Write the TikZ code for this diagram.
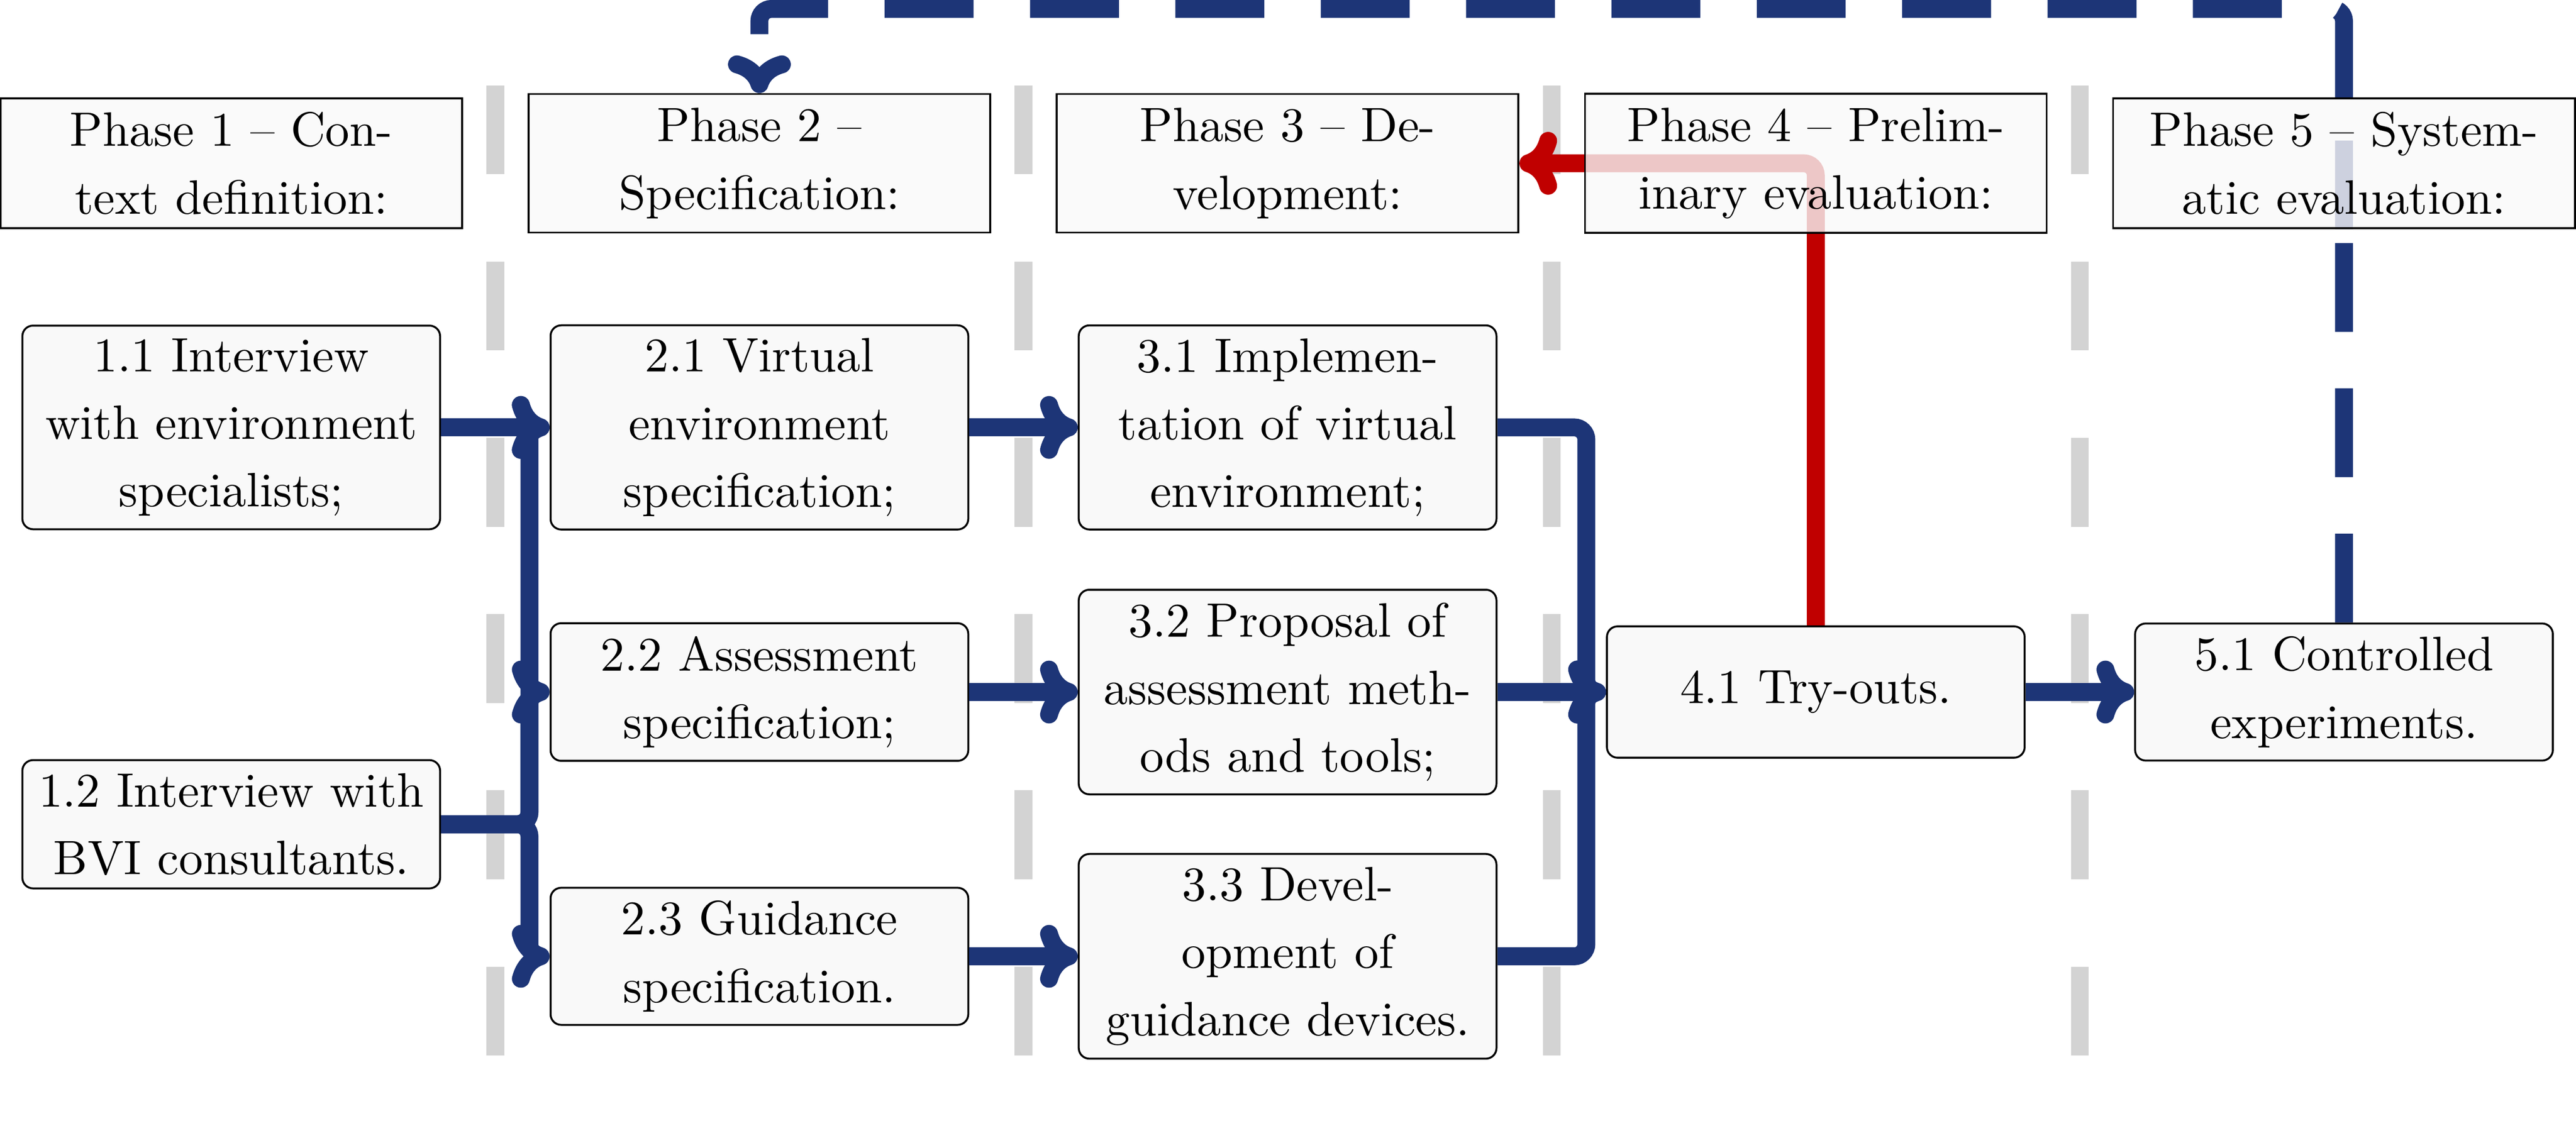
\documentclass[tikz,border=0pt]{standalone}
\usetikzlibrary{arrows.meta}
\definecolor{navy}{RGB}{29,53,119}
\definecolor{myred}{RGB}{192,0,0}
\definecolor{gline}{RGB}{211,211,211}
\definecolor{boxfill}{RGB}{249,249,249}
\pgfdeclarelayer{bg}
\pgfsetlayers{bg,main}
\begin{document}
\begin{tikzpicture}[x=0.3402pt,y=-0.3402pt,
  phasebox/.style={draw=black, line width=0.4pt, fill=boxfill, fill opacity=0.8, text opacity=1,
    align=center, minimum width=95.6pt, inner xsep=3pt, inner ysep=2.9pt,
    font=\fontsize{10}{14}\selectfont},
  taskbox/.style={draw=black, line width=0.4pt, rounded corners=2.2pt, fill=boxfill,
    align=center, minimum width=86.5pt, inner xsep=3pt, inner ysep=2.7pt,
    font=\fontsize{10}{14}\selectfont},
  conn/.style={draw=navy, line width=3.7pt, rounded corners=2.5pt,
    -{Computer Modern Rightarrow[length=7.8pt,width=13pt]}},
  redconn/.style={conn, draw=myred},
  dconn/.style={conn, dash pattern=on 18.4pt off 11.7pt},
  gl/.style={draw=gline, line width=3.7pt, dash pattern=on 18.4pt off 18.1pt}]
\useasboundingbox (0,0) rectangle (1568,695.6);
\coordinate (top) at (0,5.4);

% phase headers
\node[phasebox] (ph1) at (140.75,99.4) {Phase 1 \textendash{} Con-\\text definition:};
\node[phasebox] (ph2) at (462.25,99.4) {Phase 2 \textendash\\Specification:};
\node[phasebox] (ph3) at (783.75,99.4) {Phase 3 \textendash{} De-\\velopment:};
\node[phasebox] (ph4) at (1105.25,99.4) {Phase 4 \textendash{} Prelim-\\inary evaluation:};
\node[phasebox] (ph5) at (1426.75,99.4) {Phase 5 \textendash{} System-\\atic evaluation:};

% tasks
\node[taskbox] (n11) at (140.75,260.2) {1.1 Interview\\with environment\\specialists;};
\node[taskbox] (n12) at (140.75,501.8) {1.2 Interview with\\BVI consultants.};
\node[taskbox] (n21) at (462.25,260.2) {2.1 Virtual\\environment\\specification;};
\node[taskbox] (n22) at (462.25,421.3) {2.2 Assessment\\specification;};
\node[taskbox] (n23) at (462.25,582.2) {2.3 Guidance\\specification.};
\node[taskbox] (n31) at (783.75,260.2) {3.1 Implemen-\\tation of virtual\\environment;};
\node[taskbox] (n32) at (783.75,421.3) {3.2 Proposal of\\assessment meth-\\ods and tools;};
\node[taskbox] (n33) at (783.75,582.2) {3.3 Devel-\\opment of\\guidance devices.};
\node[taskbox, minimum height=27.2pt] (n41) at (1105.25,421.3) {4.1 Try-outs.};
\node[taskbox] (n51) at (1426.75,421.3) {5.1 Controlled\\experiments.};

\begin{pgfonlayer}{bg}
  \foreach \gx in {301.5,623,944.5,1266}
    \draw[gl] (\gx,52) -- (\gx,695.6);
  \draw[redconn] (n41.north) |- (ph3.east);
  \draw[dconn] (n51.north) -- (ph5.south) (ph5.south) -- (ph5.north)
    (ph5.north) -- (ph5.north |- top) -- (ph2.north |- top) -- (ph2.north);
\end{pgfonlayer}

\draw[conn] (n11.east) -- (n21.west);
\draw[conn] (n12.east) -- ++(53.8,0) |- (n21.west);
\draw[conn] (n12.east) -- ++(53.8,0) |- (n22.west);
\draw[conn] (n12.east) -- ++(53.8,0) |- (n23.west);
\draw[conn] (n21.east) -- (n31.west);
\draw[conn] (n22.east) -- (n32.west);
\draw[conn] (n23.east) -- (n33.west);
\draw[conn] (n31.east) -- ++(54.1,0) |- (n41.west);
\draw[conn] (n32.east) -- (n41.west);
\draw[conn] (n33.east) -- ++(54.1,0) |- (n41.west);
\draw[conn] (n41.east) -- (n51.west);
\end{tikzpicture}
\end{document}
